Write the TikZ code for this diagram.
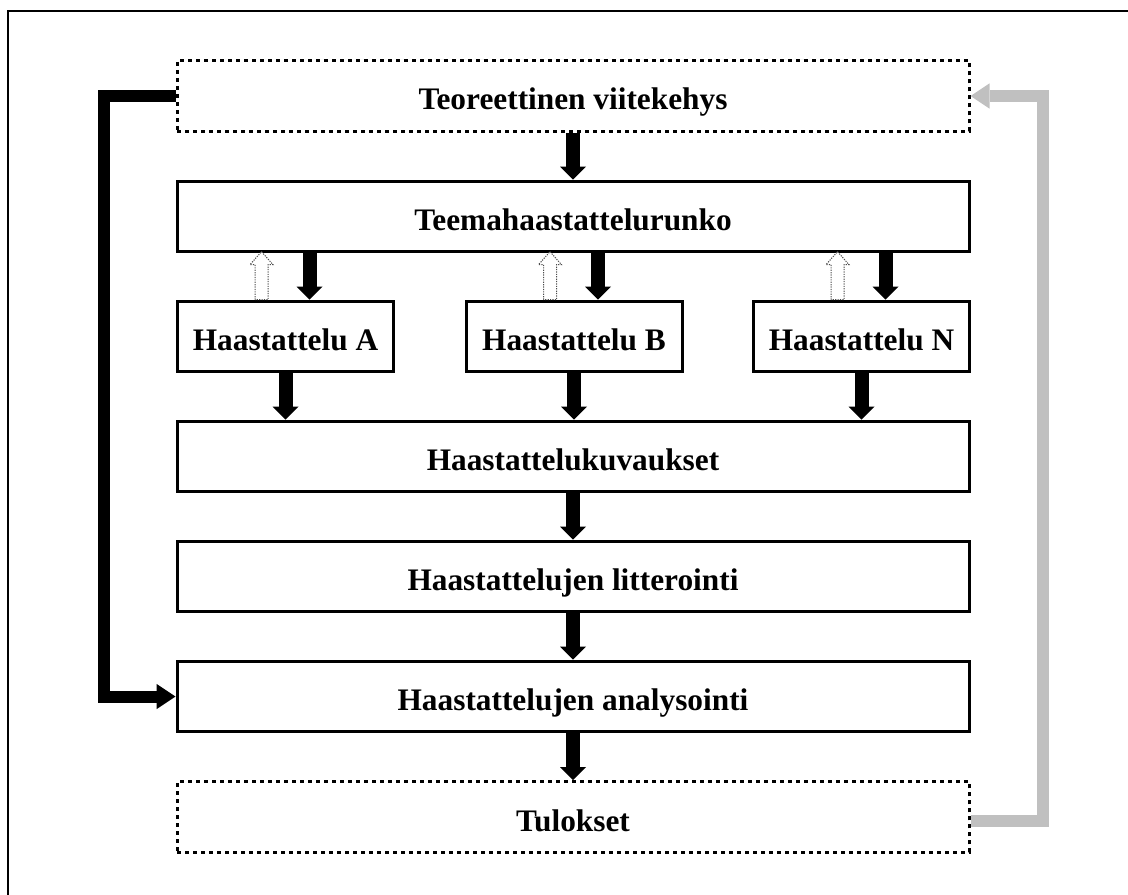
\documentclass[tikz,border=0pt]{standalone}
\usepackage{fontspec}
\setmainfont{Liberation Serif}
\usetikzlibrary{arrows.meta,calc}
\definecolor{loopgray}{HTML}{C0C0C0}
% draws a hollow, dotted upward block arrow standing on the given point
\newcommand\hollowup[1]{%
  \draw[hollow] ($(#1)+(-6.5,0)$) -- ($(#1)+(-6.5,-35)$) -- ($(#1)+(-11.5,-35)$)
    -- ($(#1)+(0,-48)$) -- ($(#1)+(11.5,-35)$) -- ($(#1)+(6.5,-35)$)
    -- ($(#1)+(6.5,0)$) -- cycle;}
\begin{document}
\begin{tikzpicture}[x=0.75pt,y=-0.75pt,
  box/.style={draw,line width=2.25pt,minimum width=594pt,minimum height=53pt,
    inner sep=0pt,text height=21pt,text depth=0pt,
    font=\fontsize{23.5}{28}\selectfont\bfseries},
  dotbox/.style={box,dash pattern=on 3pt off 3pt},
  ibox/.style={box,minimum width=162pt},
  flow/.style={line width=10.5pt,-{Triangle[length=9.75pt,width=19.5pt,line width=0pt]}},
  loop/.style={line width=9pt,-{Triangle[length=14.25pt,width=19pt,line width=0pt]}},
  hollow/.style={draw=black!70,fill=white,line width=0.75pt,dash pattern=on 0.9pt off 0.9pt}
]
\useasboundingbox (0,0) rectangle (1128,895);
% outer frame
\draw[line width=1.1pt] (8,905) -- (8,11) -- (1140,11);

% boxes
\node[dotbox] (teo)   at (573,96)    {Teoreettinen viitekehys};
\node[box]    (teema) at (573,216.5) {Teemahaastattelurunko};
\node[ibox]   (ha)    at (285.5,336.5) {Haastattelu A};
\node[ibox]   (hb)    at (574,336.5)   {Haastattelu B};
\node[ibox]   (hn)    at (861.5,336.5) {Haastattelu N};
\node[box]    (kuv)   at (573,456.5) {Haastattelukuvaukset};
\node[box]    (lit)   at (573,576.5) {Haastattelujen litterointi};
\node[box]    (ana)   at (573,696.5) {Haastattelujen analysointi};
\node[dotbox] (tul)   at (573,817)   {Tulokset};

% main flow
\draw[flow] (teo) -- (teema);
\foreach \i in {ha,hb,hn}{
  \coordinate (\i-in) at ($(\i.north)+(24,0)$);
  \coordinate (\i-up) at ($(\i.north)+(-24,0)$);
  \draw[flow] (teema.south -| \i-in) -- (\i-in);
  \hollowup{\i-up}
  \draw[flow] (\i) -- (\i |- kuv.north);
}
\draw[flow] (kuv) -- (lit);
\draw[flow] (lit) -- (ana);
\draw[flow] (ana) -- (tul);

% feedback loops
\draw[loop] (teo.west) -- ++(-71.5,0) |- (ana.west);
\draw[loop,draw=loopgray] ([yshift=-3pt]tul.east) -- ++(72,0) |- (teo.east);
\end{tikzpicture}
\end{document}
